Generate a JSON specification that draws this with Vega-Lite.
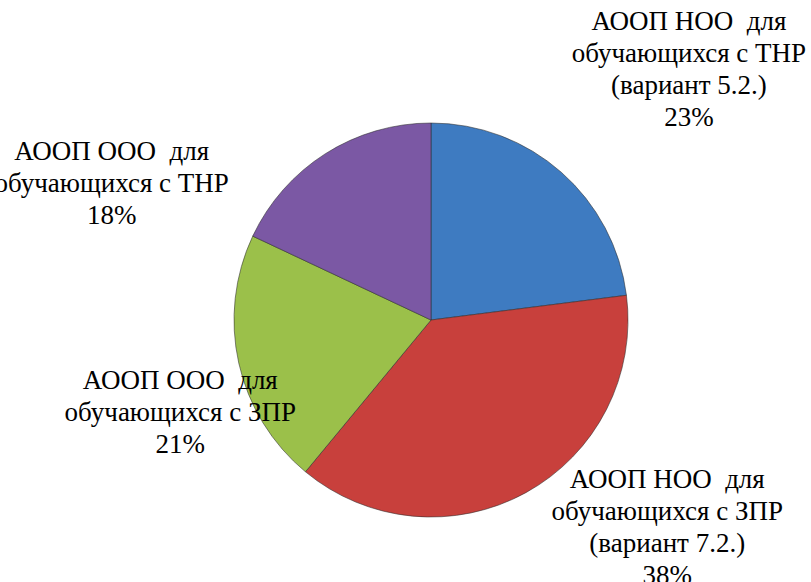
{
  "$schema": "https://vega.github.io/schema/vega-lite/v6.json",
  "width": 762,
  "height": 524,
  "autosize": "none",
  "padding": {"left": 50, "top": 58, "right": 0, "bottom": 0},
  "background": "white",
  "view": {"stroke": null},
  "data": {
    "values": [
      {"idx": 1, "cat": "АООП НОО для обучающихся с ТНР (вариант 5.2.)", "value": 23, "label": "АООП НОО \u00a0для\nобучающихся с ТНР\n(вариант 5.2.)\n23%"},
      {"idx": 2, "cat": "АООП НОО для обучающихся с ЗПР (вариант 7.2.)", "value": 38, "label": "АООП НОО \u00a0для\nобучающихся с ЗПР\n(вариант 7.2.)\n38%"},
      {"idx": 3, "cat": "АООП ООО для обучающихся с ЗПР", "value": 21, "label": "АООП ООО \u00a0для\nобучающихся с ЗПР\n21%"},
      {"idx": 4, "cat": "АООП ООО для обучающихся с ТНР", "value": 18, "label": "АООП ООО \u00a0для\nобучающихся с ТНР\n18%"}
    ]
  },
  "encoding": {
    "theta": {"field": "value", "type": "quantitative", "stack": true},
    "order": {"field": "idx", "type": "quantitative"}
  },
  "layer": [
    {
      "mark": {"type": "arc", "outerRadius": 197, "stroke": "#2b2b2b", "strokeWidth": 1, "strokeOpacity": 0.55},
      "encoding": {
        "color": {
          "field": "cat",
          "type": "nominal",
          "legend": null,
          "scale": {
            "domain": ["АООП НОО для обучающихся с ТНР (вариант 5.2.)", "АООП НОО для обучающихся с ЗПР (вариант 7.2.)", "АООП ООО для обучающихся с ЗПР", "АООП ООО для обучающихся с ТНР"],
            "range": ["#3e7bc1", "#c8403c", "#9bc04a", "#7b58a4"]
          }
        }
      }
    },
    {
      "mark": {"type": "text", "radius": 260, "dx": 86, "dy": -103, "font": "Liberation Serif, Times New Roman, serif", "fontSize": 27, "lineHeight": 32, "lineBreak": "\n", "align": "center", "baseline": "middle", "color": "#000000"},
      "encoding": {"text": {"condition": {"test": "datum.idx == 1", "field": "label"}, "value": ""}}
    },
    {
      "mark": {"type": "text", "radius": 260, "dx": 111, "dy": -68, "font": "Liberation Serif, Times New Roman, serif", "fontSize": 27, "lineHeight": 32, "lineBreak": "\n", "align": "center", "baseline": "middle", "color": "#000000"},
      "encoding": {"text": {"condition": {"test": "datum.idx == 2", "field": "label"}, "value": ""}}
    },
    {
      "mark": {"type": "text", "radius": 260, "dx": 3, "dy": 4, "font": "Liberation Serif, Times New Roman, serif", "fontSize": 27, "lineHeight": 32, "lineBreak": "\n", "align": "center", "baseline": "middle", "color": "#000000"},
      "encoding": {"text": {"condition": {"test": "datum.idx == 3", "field": "label"}, "value": ""}}
    },
    {
      "mark": {"type": "text", "radius": 260, "dx": -180, "dy": 52, "font": "Liberation Serif, Times New Roman, serif", "fontSize": 27, "lineHeight": 32, "lineBreak": "\n", "align": "center", "baseline": "middle", "color": "#000000"},
      "encoding": {"text": {"condition": {"test": "datum.idx == 4", "field": "label"}, "value": ""}}
    }
  ]
}
